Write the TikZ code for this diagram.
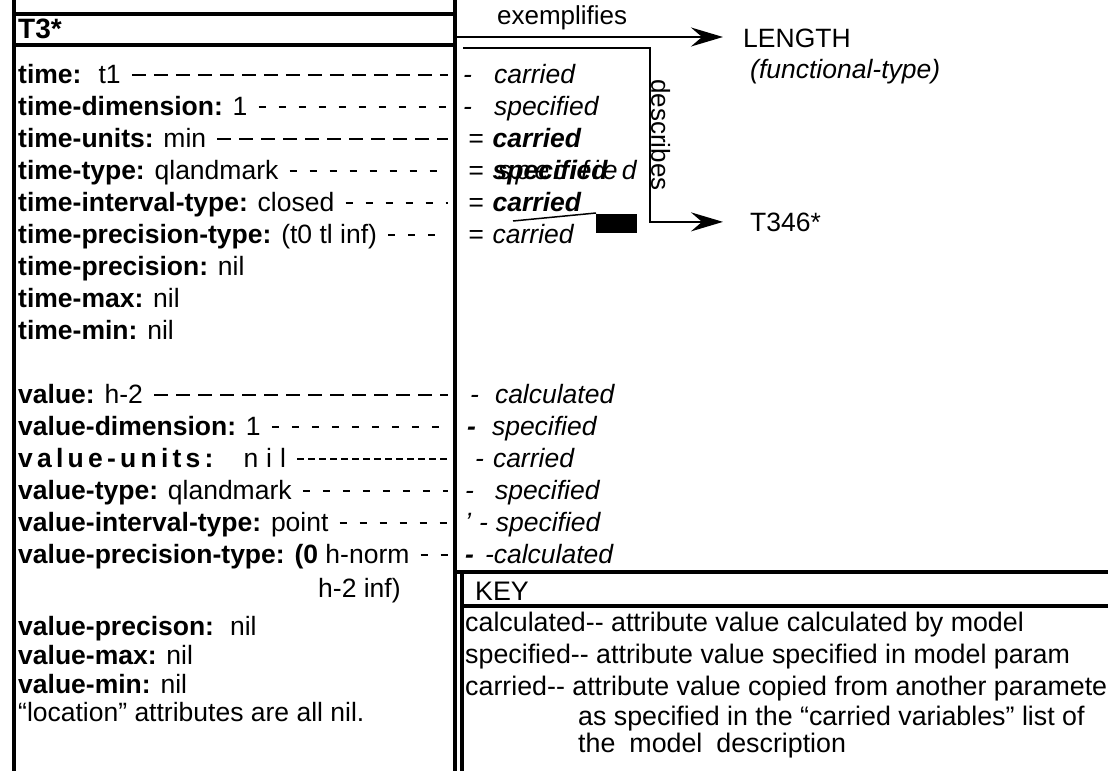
\documentclass[tikz,border=0pt]{standalone}
\usepackage{fontspec}
\setmainfont{Liberation Sans}
\usetikzlibrary{arrows.meta, positioning}

\newcommand{\leadto}[2][lead]{%
  \draw[#1] ([xshift=11pt,yshift=8pt]#2.base east) -- ([yshift=8pt]lend |- #2.base east);}

\begin{document}
\begin{tikzpicture}[x=1pt, y=-1pt,
    frame/.style={line width=3.2pt},
    attr/.style={anchor=base west, inner sep=0pt, font=\fontsize{26.5}{30}\selectfont},
    src/.style={anchor=base west, inner sep=0pt, font=\fontsize{26.5}{30}\selectfont\itshape},
    keyline/.style={anchor=base west, inner sep=0pt, font=\fontsize{26.8}{30}\selectfont},
    obj/.style={anchor=base west, inner sep=0pt, font=\fontsize{26.5}{30}\selectfont},
    rel/.style={inner sep=0pt, font=\fontsize{26}{30}\selectfont},
    lead/.style={line width=1.3pt, dash pattern=on 7pt off 13pt},
    boldlead/.style={line width=2.6pt, dash pattern=on 14pt off 8pt},
    tightlead/.style={line width=1.3pt, dash pattern=on 7pt off 4pt},
    link/.style={line width=2.2pt, -{Stealth[length=32pt, width=19pt, inset=11pt]}}
  ]
  \useasboundingbox (0,0) rectangle (1108,771);

  % frames of the record and of the key
  \draw[frame] (14,0) -- (14,771);
  \draw[frame] (455,0) -- (455,771);
  \draw[frame] (14,14) -- (455,14);
  \draw[frame] (14,45) -- (455,45);
  \draw[frame] (455,572) -- (1108,572);
  \draw[frame] (462,572) -- (462,771);
  \draw[frame] (462,606) -- (1108,606);

  \node[attr, font=\fontsize{28}{30}\selectfont\bfseries] (hdr) at (18,38) {T3*};
  \coordinate (lend) at (448,0);

  % time attributes
  \node[attr] (t1) at (18,83) {\textbf{time:}\hspace{17pt}t1};
  \node[attr] (t2) at (18,115) {\textbf{time-dimension:} 1};
  \node[attr] (t3) at (18,147) {\textbf{time-units:} min};
  \node[attr] (t4) at (18,179) {\textbf{time-type:} qlandmark};
  \node[attr] (t5) at (18,211) {\textbf{time-interval-type:} closed};
  \node[attr] (t6) at (18,243) {\textbf{time-precision-type:} (t0 tl inf)};
  \node[attr] (t7) at (18,275) {\textbf{time-precision:} nil};
  \node[attr] (t8) at (18,307) {\textbf{time-max:} nil};
  \node[attr] (t9) at (18,339) {\textbf{time-min:} nil};
  \leadto[boldlead]{t1}
  \leadto{t2}
  \leadto[boldlead]{t3}
  \leadto{t4}
  \leadto{t5}
  \leadto{t6}

  % value attributes
  \node[attr] (v1) at (18,403) {\textbf{value:} h-2};
  \node[attr] (v2) at (18,435) {\textbf{value-dimension:} 1};
  \node[attr] (v3) at (18,467) {{\bfseries\addfontfeature{LetterSpace=16}value-units:}\hspace{30pt}{\addfontfeature{LetterSpace=30}nil}};
  \node[attr] (v4) at (18,499) {\textbf{value-type:} qlandmark};
  \node[attr] (v5) at (18,531) {\textbf{value-interval-type:} point};
  \node[attr] (v6) at (18,563) {\textbf{value-precision-type: (0} h-norm};
  \node[attr] (v7) at (318,597) {h-2 inf)};
  \node[attr] (v8) at (18,635) {\textbf{value-precison:}\hspace{16pt}nil};
  \node[attr] (v9) at (18,664) {\textbf{value-max:} nil};
  \node[attr] (v10) at (18,693) {\textbf{value-min:} nil};
  \node[attr] (loc) at (18,721) {“location” attributes are all nil.};
  \leadto[boldlead]{v1}
  \leadto{v2}
  \leadto[tightlead]{v3}
  \leadto{v4}
  \leadto{v5}
  \leadto{v6}

  % where each attribute value comes from
  \node[src] (s1) at (463,83) {-\hspace{22pt}carried};
  \node[src] (s2) at (463,115) {-\hspace{22pt}specified};
  \node[src] (s3) at (468,147) {=\hspace{9pt}\textbf{carried}};
  \node[src] (s4) at (468,179) {=\hspace{9pt}\textbf{specified}};
  \node[src] (s4b) at (498,179) {\addfontfeature{LetterSpace=16}specified};
  \node[src] (s5) at (468,211) {=\hspace{9pt}\textbf{carried}};
  \node[src] (s6) at (468,243) {=\hspace{9pt}carried};
  \node[src] (w1) at (470,403) {-\hspace{16pt}calculated};
  \node[src] (w2) at (467,435) {\textbf{-}\hspace{16pt}specified};
  \node[src] (w3) at (475,467) {-\hspace{9pt}carried};
  \node[src] (w4) at (465,499) {-\hspace{21pt}specified};
  \node[src] (w5) at (465,531) {'\hspace{8pt}-\hspace{8pt}specified};
  \node[src] (w6) at (465,563) {\textbf{-}\hspace{11pt}-calculated};
  \fill (596,214) rectangle (637,233);
  \draw[line width=1.5pt] (513,221) -- (596,213);

  % related objects
  \node[obj] (len) at (743,47) {LENGTH};
  \node[obj, font=\fontsize{26.5}{30}\selectfont\itshape] (ftype) at (750,78) {(functional-type)};
  \node[obj] (t346) at (750,231) {T346*};
  \coordinate (exfrom) at (455,37);
  \coordinate (dfrom) at (463,48);
  \coordinate (dbend) at (650,48);
  \draw[link] (exfrom) -- ([xshift=-20pt]exfrom -| len.west)
    node[rel, above=6pt, pos=0.4] (exlab) {exemplifies};
  \draw[link] (dfrom) -- (dbend) |- ([xshift=-27pt]t346.west)
    node[rel, rotate=-90, anchor=south, pos=0.25] (dlab) {describes};

  % key
  \node[keyline] (keyhd) at (475,600) {KEY};
  \node[keyline] (k1) at (465,631) {calculated-{}- attribute value calculated by model};
  \node[keyline] (k2) at (465,663) {specified-{}- attribute value specified in model param};
  \node[keyline] (k3) at (465,695) {carried-{}- attribute value copied from another paramete};
  \node[keyline] (k4) at (578,725) {as specified in the “carried variables” list of};
  \node[keyline] (k5) at (578,752) {the\hspace{14pt}model\hspace{14pt}description};
\end{tikzpicture}
\end{document}
